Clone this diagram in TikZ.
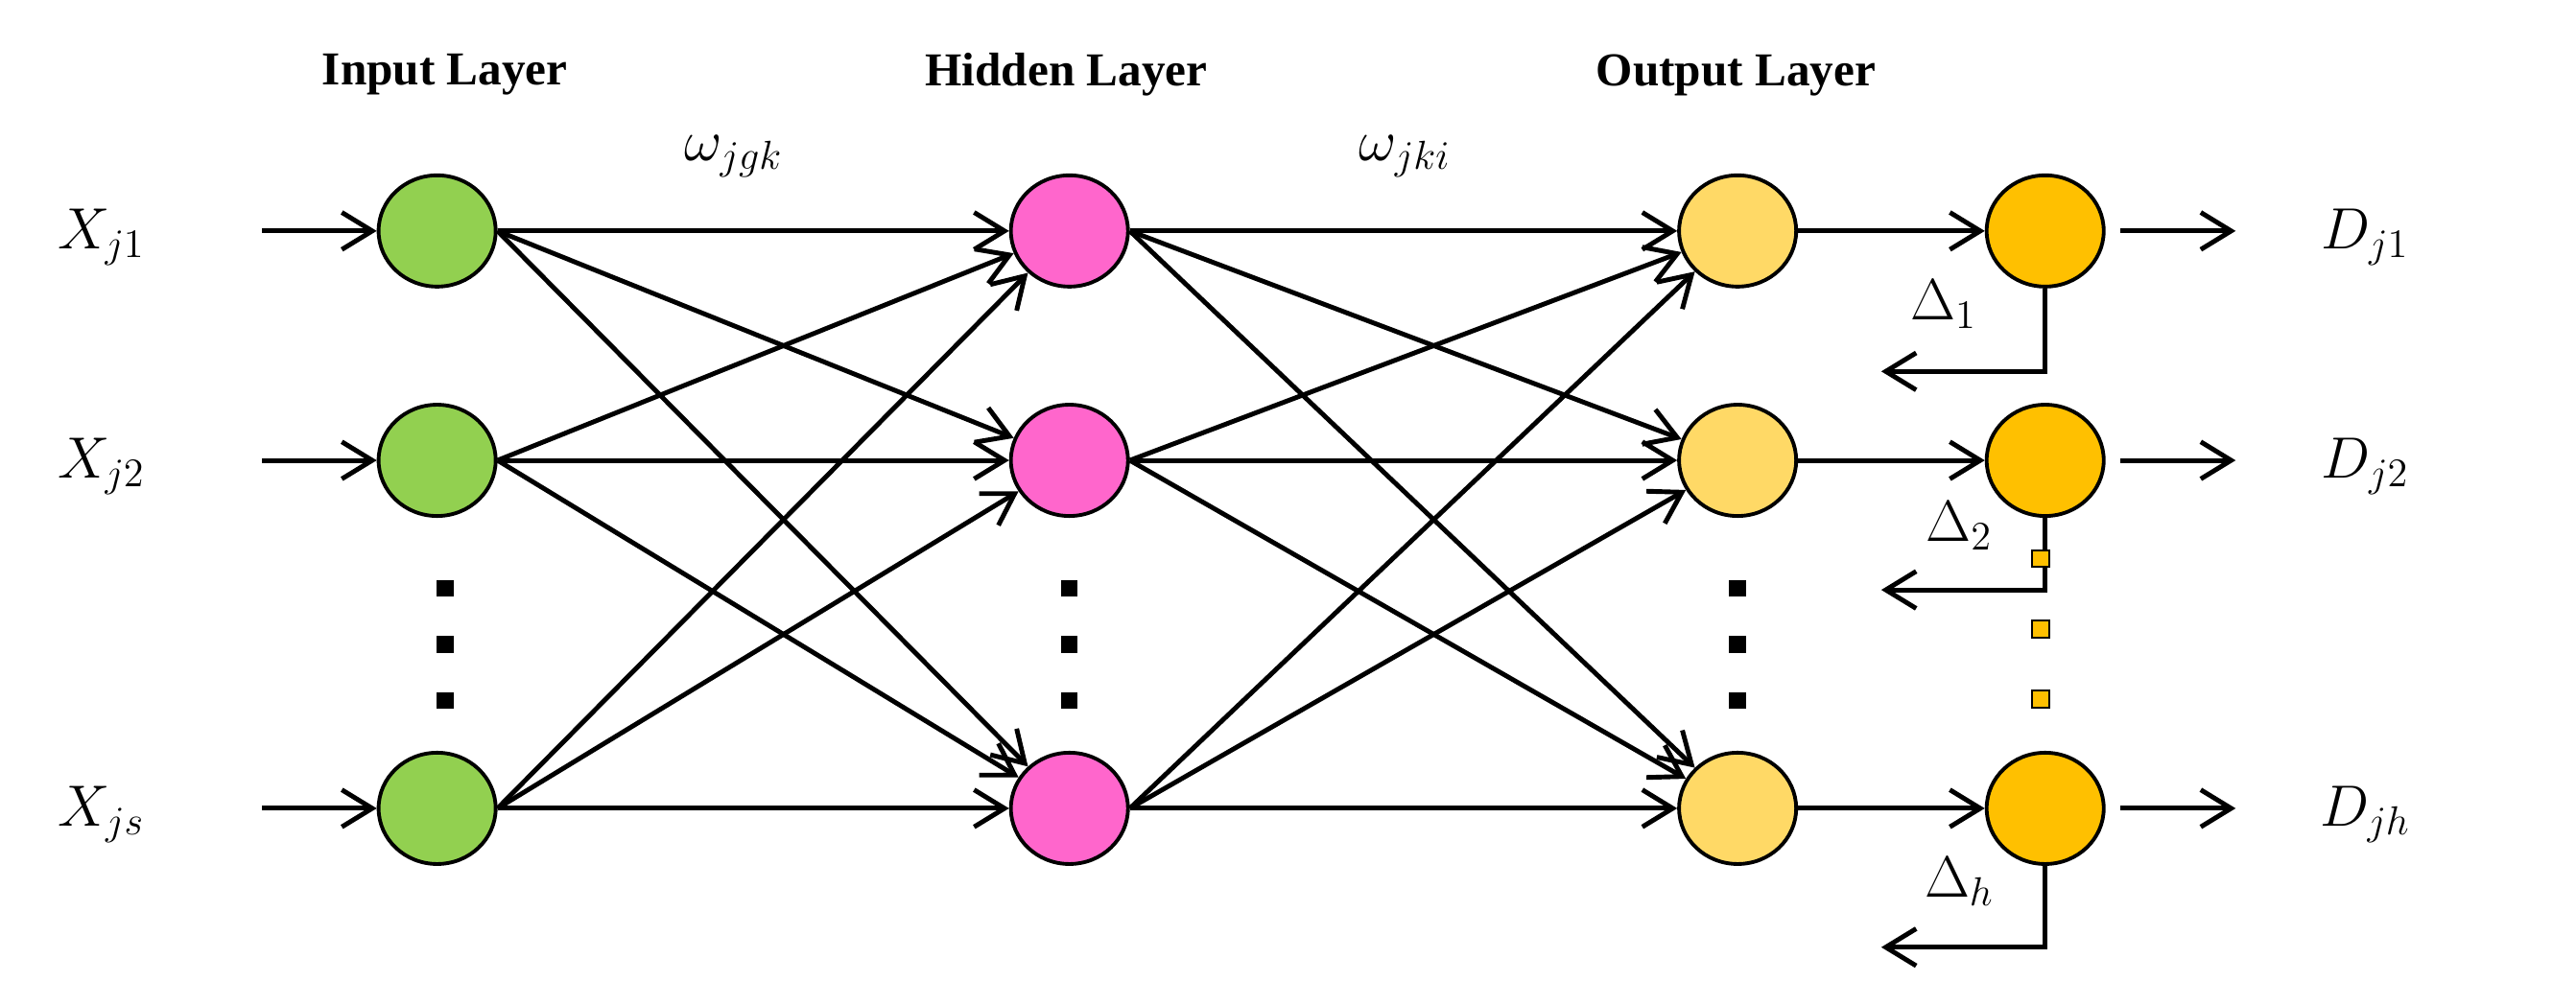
\documentclass[tikz,border=0pt]{standalone}
\usepackage{fontspec}
\setmainfont{Liberation Serif}
\usetikzlibrary{arrows.meta,shapes.geometric}
\definecolor{inGreen}{HTML}{92D050}
\definecolor{hidPink}{HTML}{FF66CC}
\definecolor{outYellow}{HTML}{FFD966}
\definecolor{finOrange}{HTML}{FFC000}

\begin{document}
\begin{tikzpicture}[
x=0.01626cm,y=-0.01626cm,
line width=1.4pt,
neuron/.style={ellipse,draw=black,line width=1.1pt,minimum width=1.22cm,minimum height=1.16cm,inner sep=0pt},
inputN/.style={neuron,fill=inGreen},
hiddenN/.style={neuron,fill=hidPink},
outputN/.style={neuron,fill=outYellow},
finalN/.style={neuron,fill=finOrange},
link/.style={-{Straight Barb[length=9pt,width=11pt,line width=1.4pt]}},
label/.style={font=\fontsize{17}{20}\selectfont\itshape},
header/.style={font=\fontsize{14}{16}\selectfont\bfseries},
dot/.style={fill=black,minimum size=5pt,inner sep=0pt},
ydot/.style={draw=black,fill=finOrange,line width=0.6pt,minimum size=5pt,inner sep=0pt},
]
\useasboundingbox (0,0) rectangle (1650,644);

% Headers
\node[header] (hin) at (285,48) {Input Layer};
\node[header] (hhid) at (683,48) {Hidden Layer};
\node[header] (hout) at (1112,48) {Output Layer};
\node[label] (w1) at (470,100) {$\omega_{jgk}$};
\node[label] (w2) at (900,100) {$\omega_{jki}$};

% Neurons
\foreach \n/\y in {1/148,2/295,3/518}{
  \node[inputN] (i\n) at (280,\y) {};
  \node[hiddenN] (h\n) at (685,\y) {};
  \node[outputN] (o\n) at (1113,\y) {};
  \node[finalN] (f\n) at (1310,\y) {};
  \coordinate (xin\n) at (168,\y);
  \coordinate (dstart\n) at (1358,\y);
  \coordinate (dout\n) at (1432,\y);
  \draw[link] (xin\n) -- (i\n);
  \draw[link] (o\n) -- (f\n);
  \draw[link] (dstart\n) -- (dout\n);
}

% Weights
\foreach \a in {1,2,3}{
  \foreach \b in {1,2,3}{
    \draw[link] (i\a.east) -- (h\b);
    \draw[link] (h\a.east) -- (o\b);
  }
}

% Input and output labels
\node[label] (x1) at (65,152) {$X_{j1}$};
\node[label] (x2) at (65,299) {$X_{j2}$};
\node[label] (x3) at (65,522) {$X_{js}$};
\node[label] (d1) at (1515,152) {$D_{j1}$};
\node[label] (d2) at (1515,299) {$D_{j2}$};
\node[label] (d3) at (1515,522) {$D_{jh}$};

% Feedback
\coordinate (fe1) at (1205,238);
\coordinate (fe2) at (1205,378);
\coordinate (fe3) at (1205,607);
\draw[link] (f1.south) |- (fe1);
\draw[link] (f2.south) |- (fe2);
\draw[link] (f3.south) |- (fe3);
\node[label] (del1) at (1245,195) {$\Delta_1$};
\node[label] (del2) at (1255,337) {$\Delta_2$};
\node[label] (del3) at (1255,565) {$\Delta_h$};

% Dots
\foreach \y in {377,413,449}{
  \node[dot] at (285,\y) {};
  \node[dot] at (685,\y) {};
  \node[dot] at (1113,\y) {};
}
\foreach \y in {358,403,448}{
  \node[ydot] at (1307,\y) {};
}
\end{tikzpicture}
\end{document}
